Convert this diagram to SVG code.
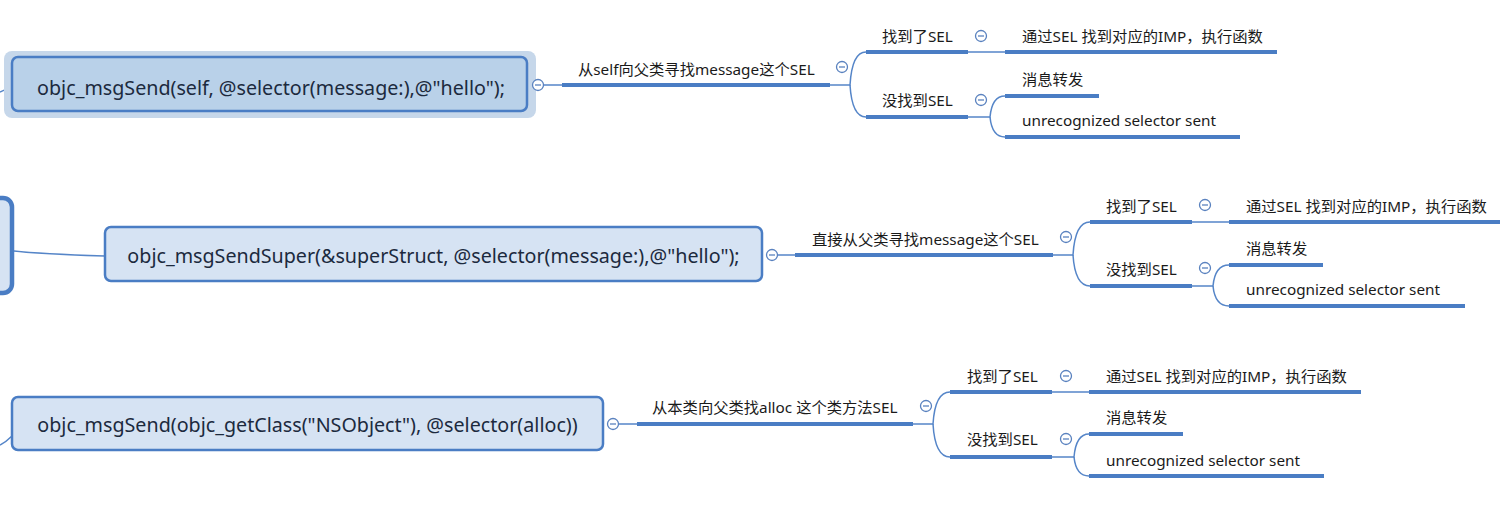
<svg xmlns="http://www.w3.org/2000/svg" width="1510" height="511" viewBox="0 0 1510 511">
<style>
.nodebox{fill:#d6e3f3;stroke:#4a7dc4;stroke-width:2.5}
.ntext{font-family:"Noto Sans","Noto Sans CJK SC",sans-serif;font-size:19.7px;fill:#1c2a3e;text-anchor:middle}
.ltext{font-family:"Noto Sans","Noto Sans CJK SC",sans-serif;font-size:15.3px;fill:#1a1a1a}
.ul{stroke:#4a7dc4;stroke-width:4;fill:none}
.thin{stroke:#5585c8;stroke-width:1.5;fill:none}
.coll{fill:#fff;stroke:#5a82bf;stroke-width:1.3}
.minus{stroke:#5a82bf;stroke-width:1.3}
</style>
<defs>
<g id="c"><circle class="coll" r="5.5"/><line class="minus" x1="-3" y1="0" x2="3" y2="0"/></g>
</defs>
<rect width="1510" height="511" fill="#fff"/>

<g id="connectors">
<path class="thin" d="M0,92 Q6,90 12,85"/>
<path class="thin" d="M14,251 Q40,254 105,256"/>
<path class="thin" d="M0,445 Q6,442 12,436"/>
<path class="thin" d="M543,85 L562,85"/>
<path class="ul" d="M562,85 L830,85"/>
<path class="thin" d="M830,85 L850,85 Q852,52 866,52"/>
<path class="thin" d="M850,85 Q852,117 866,117"/>
<path class="ul" d="M866,52 L968,52"/>
<path class="ul" d="M866,117 L968,117"/>
<path class="thin" d="M968,52 L1005,52"/>
<path class="ul" d="M1005,52 L1277,52"/>
<path class="thin" d="M968,117 L990,117 Q992,96 1005,96"/>
<path class="thin" d="M990,117 Q992,137 1005,137"/>
<path class="ul" d="M1005,96 L1099,96"/>
<path class="ul" d="M1005,137 L1240,137"/>
<path class="thin" d="M777,255 L795,255"/>
<path class="ul" d="M795,255 L1053,255"/>
<path class="thin" d="M1053,255 L1073,255 Q1075,222 1090,222"/>
<path class="thin" d="M1073,255 Q1075,286 1090,286"/>
<path class="ul" d="M1090,222 L1192,222"/>
<path class="ul" d="M1090,286 L1192,286"/>
<path class="thin" d="M1192,222 L1229,222"/>
<path class="ul" d="M1229,222 L1500,222"/>
<path class="thin" d="M1192,286 L1213,286 Q1215,265 1229,265"/>
<path class="thin" d="M1213,286 Q1215,306 1229,306"/>
<path class="ul" d="M1229,265 L1323,265"/>
<path class="ul" d="M1229,306 L1465,306"/>
<path class="thin" d="M618,424 L637,424"/>
<path class="ul" d="M637,424 L913,424"/>
<path class="thin" d="M913,424 L933,424 Q935,392 950,392"/>
<path class="thin" d="M933,424 Q935,457 950,457"/>
<path class="ul" d="M950,392 L1052,392"/>
<path class="ul" d="M950,457 L1052,457"/>
<path class="thin" d="M1052,392 L1089,392"/>
<path class="ul" d="M1089,392 L1361,392"/>
<path class="thin" d="M1052,457 L1074,457 Q1076,434 1089,434"/>
<path class="thin" d="M1074,457 Q1076,476 1089,476"/>
<path class="ul" d="M1089,434 L1183,434"/>
<path class="ul" d="M1089,476 L1324,476"/>
</g>

<g id="root">
<rect x="-30" y="198" width="42" height="95" rx="9" fill="#d6e3f3" stroke="#4a7dc4" stroke-width="4.5"/>
</g>

<g id="node1">
<rect x="4" y="51" width="532" height="67" rx="8" fill="#c6d7ea"/>
<rect x="12" y="57" width="515" height="54" rx="6" fill="#b9d1e9" stroke="#4a7dc4" stroke-width="2.5"/>
<text class="ntext" x="271" y="95">objc_msgSend(self, @selector(message:),@"hello");</text>
<use href="#c" x="538" y="85"/>
</g>

<g id="node1a">
<text class="ltext" x="578" y="75">从self向父类寻找message这个SEL</text>
<use href="#c" x="842" y="67"/>
</g>
<g id="node1b">
<text class="ltext" x="882" y="42">找到了SEL</text>
<use href="#c" x="981" y="36"/>
</g>
<g id="node1c">
<text class="ltext" x="882" y="106">没找到SEL</text>
<use href="#c" x="981" y="100"/>
</g>
<g id="node1d"><text class="ltext" x="1022" y="42">通过SEL 找到对应的IMP，执行函数</text></g>
<g id="node1e"><text class="ltext" x="1022" y="85">消息转发</text></g>
<g id="node1f"><text class="ltext" x="1022" y="126">unrecognized selector sent</text></g>

<g id="node2">
<rect x="105" y="227" width="657" height="54" rx="6" class="nodebox"/>
<text class="ntext" x="433.5" y="262.5">objc_msgSendSuper(&amp;superStruct, @selector(message:),@"hello");</text>
<use href="#c" x="772" y="255"/>
</g>
<g id="node2a">
<text class="ltext" x="812" y="245">直接从父类寻找message这个SEL</text>
<use href="#c" x="1066" y="237"/>
</g>
<g id="node2b">
<text class="ltext" x="1106" y="212">找到了SEL</text>
<use href="#c" x="1205" y="205"/>
</g>
<g id="node2c">
<text class="ltext" x="1106" y="275">没找到SEL</text>
<use href="#c" x="1205" y="268"/>
</g>
<g id="node2d"><text class="ltext" x="1246" y="212">通过SEL 找到对应的IMP，执行函数</text></g>
<g id="node2e"><text class="ltext" x="1246" y="254">消息转发</text></g>
<g id="node2f"><text class="ltext" x="1246" y="295">unrecognized selector sent</text></g>

<g id="node3">
<rect x="12" y="397" width="591" height="53" rx="6" class="nodebox"/>
<text class="ntext" x="307.5" y="431.5">objc_msgSend(objc_getClass("NSObject"), @selector(alloc))</text>
<use href="#c" x="613" y="424"/>
</g>
<g id="node3a">
<text class="ltext" x="652" y="413">从本类向父类找alloc 这个类方法SEL</text>
<use href="#c" x="926" y="406"/>
</g>
<g id="node3b">
<text class="ltext" x="967" y="382">找到了SEL</text>
<use href="#c" x="1066" y="376"/>
</g>
<g id="node3c">
<text class="ltext" x="967" y="445">没找到SEL</text>
<use href="#c" x="1066" y="439"/>
</g>
<g id="node3d"><text class="ltext" x="1106" y="382">通过SEL 找到对应的IMP，执行函数</text></g>
<g id="node3e"><text class="ltext" x="1106" y="423">消息转发</text></g>
<g id="node3f"><text class="ltext" x="1106" y="466">unrecognized selector sent</text></g>
</svg>
